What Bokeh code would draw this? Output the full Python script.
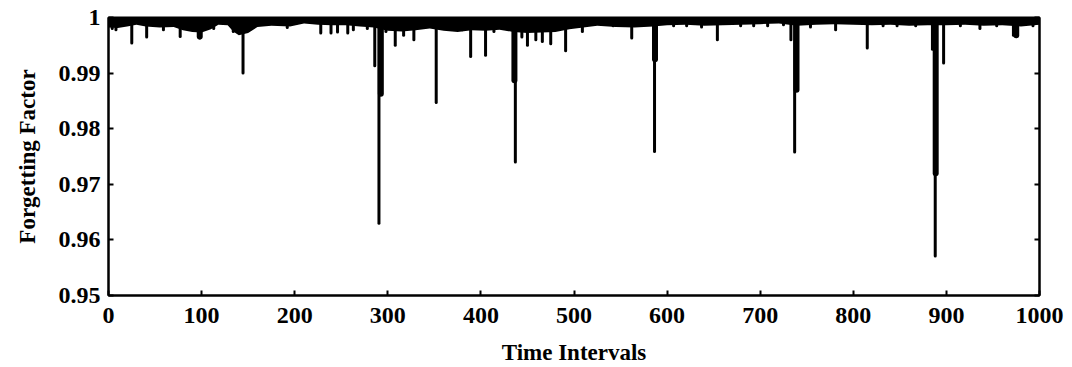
from bokeh.plotting import figure
from bokeh.models import Range1d, FixedTicker, LinearAxis
from bokeh.embed import file_html
from bokeh.resources import INLINE

# ---- data ----
# lower edge of the dense band just under 1.0
band_x = [0, 10, 20, 30, 40, 55, 70, 80, 90, 100, 110, 118, 128, 134, 140, 150, 160, 175,
          195, 210, 225, 240, 255, 270, 285, 300, 315, 330, 345, 360, 375, 390, 405, 420,
          435, 450, 465, 480, 495, 510, 525, 545, 565, 585, 600, 620, 640, 660, 680, 700,
          720, 740, 760, 780, 800, 820, 840, 860, 880, 900, 920, 940, 960, 980, 1000]
band_lo = [0.9982, 0.9981, 0.9984, 0.9987, 0.9984, 0.9982, 0.9983, 0.9977, 0.9974, 0.9973,
           0.9979, 0.9987, 0.9986, 0.9975, 0.9968, 0.9972, 0.9983, 0.9985, 0.9984, 0.9989,
           0.9987, 0.9986, 0.9986, 0.9984, 0.9982, 0.9976, 0.9975, 0.9977, 0.9980, 0.9976,
           0.9974, 0.9977, 0.9976, 0.9978, 0.9974, 0.9972, 0.9973, 0.9974, 0.9979, 0.9982,
           0.9985, 0.9983, 0.9982, 0.9984, 0.9986, 0.9987, 0.9985, 0.9986, 0.9987, 0.9988,
           0.9989, 0.9985, 0.9987, 0.9988, 0.9987, 0.9986, 0.9987, 0.9985, 0.9986, 0.9986,
           0.9987, 0.9985, 0.9986, 0.9984, 0.9987]

# narrow dips (time interval, minimum forgetting factor)
dip_x = [4, 8, 25, 41, 59, 77, 98, 113, 134, 144.5, 192, 228, 239, 246, 257, 263, 278,
         286, 290.5, 298, 308, 317, 328, 352, 367, 380, 389, 405, 414, 437, 444, 450, 459,
         466, 475, 491, 509, 542, 562, 586.5, 607, 621, 637, 654, 679, 693, 708, 725, 733,
         737, 754, 781, 815, 832, 847, 867, 885, 888, 897, 915, 936, 954, 972, 993]
dip_min = [0.9980, 0.9978, 0.9954, 0.9965, 0.9978, 0.9966, 0.9963, 0.9980, 0.9975, 0.9900,
           0.9982, 0.9972, 0.9972, 0.9974, 0.9972, 0.9978, 0.9980, 0.9913, 0.9630, 0.9975,
           0.9950, 0.9968, 0.9960, 0.9847, 0.9982, 0.9978, 0.9930, 0.9932, 0.9975, 0.9740,
           0.9965, 0.9950, 0.9960, 0.9957, 0.9953, 0.9940, 0.9975, 0.9985, 0.9963, 0.9759,
           0.9985, 0.9985, 0.9983, 0.9960, 0.9985, 0.9985, 0.9985, 0.9987, 0.9960, 0.9758,
           0.9983, 0.9978, 0.9945, 0.9985, 0.9985, 0.9985, 0.9943, 0.9571, 0.9918, 0.9985,
           0.9980, 0.9985, 0.9968, 0.9985]

# wider (clustered) parts of the large dips
wide_x = [98, 292.5, 436, 587, 739, 888.5, 975]
wide_min = [0.9966, 0.9863, 0.9887, 0.9925, 0.9870, 0.9720, 0.9968]

x_ticks = [0, 100, 200, 300, 400, 500, 600, 700, 800, 900, 1000]
y_ticks = [0.95, 0.96, 0.97, 0.98, 0.99, 1.0]
y_tick_labels = ["0.95", "0.96", "0.97", "0.98", "0.99", "1"]

FONT = "Liberation Serif"

p = figure(width=1072, height=367, output_backend="svg", toolbar_location=None,
           x_range=Range1d(0, 1000), y_range=Range1d(0.95, 1.0),
           min_border_left=108, min_border_right=33, min_border_top=17, min_border_bottom=71)
p.background_fill_color = "white"
p.border_fill_color = "white"
p.outline_line_color = "black"
p.outline_line_width = 2
p.xgrid.visible = False
p.ygrid.visible = False

p.varea(x=band_x, y1=band_lo, y2=1.0, fill_color="black")
p.segment(x0=dip_x, y0=1.0, x1=dip_x, y1=dip_min, line_color="black",
          line_width=3, line_cap="round")
p.segment(x0=wide_x, y0=1.0, x1=wide_x, y1=wide_min, line_color="black",
          line_width=6, line_cap="round")

for ax in (p.xaxis[0], p.yaxis[0]):
    ax.major_tick_in = 5
    ax.major_tick_out = 0
    ax.minor_tick_line_color = None
    ax.axis_line_width = 2
    ax.major_tick_line_width = 2
    ax.major_label_text_font = FONT
    ax.major_label_text_font_size = "24px"
    ax.major_label_text_font_style = "bold"
    ax.major_label_text_color = "black"
    ax.axis_label_text_font = FONT
    ax.axis_label_text_font_size = "23px"
    ax.axis_label_text_font_style = "bold"
    ax.axis_label_text_color = "black"

p.xaxis[0].ticker = FixedTicker(ticks=x_ticks)
p.yaxis[0].ticker = FixedTicker(ticks=y_ticks)
p.yaxis[0].major_label_overrides = {t: s for t, s in zip(y_ticks, y_tick_labels)}
p.xaxis[0].axis_label = "Time Intervals"
p.yaxis[0].axis_label = "Forgetting Factor"
p.xaxis[0].major_label_standoff = 12
p.xaxis[0].axis_label_standoff = 14
p.yaxis[0].major_label_standoff = 8
p.yaxis[0].axis_label_standoff = 16

right = LinearAxis(ticker=FixedTicker(ticks=y_ticks), major_tick_in=5, major_tick_out=0,
                   minor_tick_line_color=None, axis_line_width=2, major_tick_line_width=2,
                   major_label_overrides={t: "" for t in y_ticks})
p.add_layout(right, "right")

open("out.html", "w").write(file_html(p, INLINE))
